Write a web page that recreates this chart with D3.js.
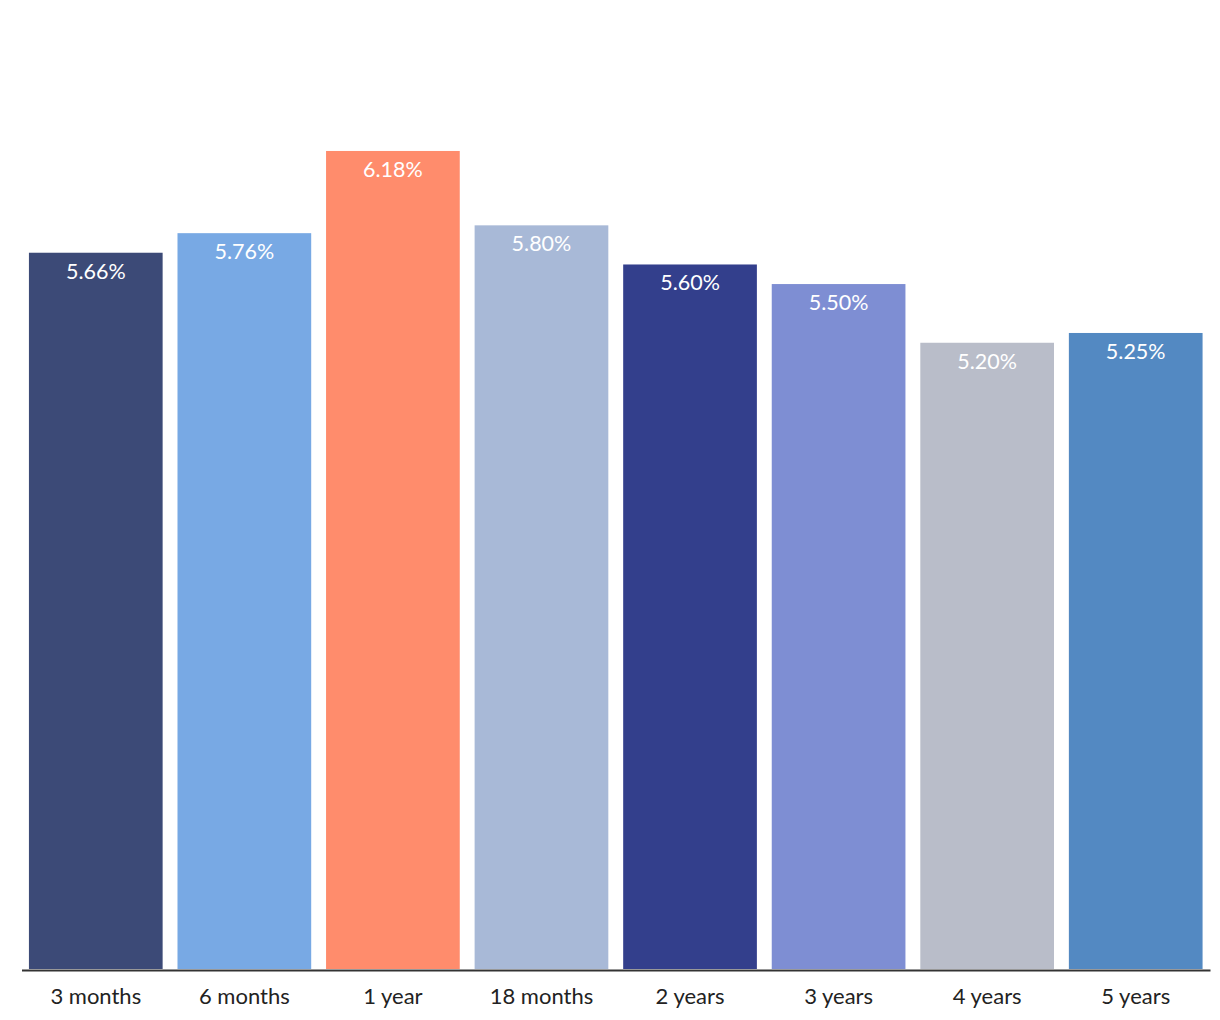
<!DOCTYPE html>
<html>
<head>
<meta charset="utf-8">
<script src="https://cdn.jsdelivr.net/npm/d3@7"></script>
<style>
  html, body { margin: 0; padding: 0; background: #ffffff; }
  svg { display: block; font-family: Lato, "Open Sans", sans-serif; }
</style>
</head>
<body>
<svg id="chart" width="1220" height="1020"></svg>
<script>
const categories = ["3 months", "6 months", "1 year", "18 months", "2 years", "3 years", "4 years", "5 years"];
const values = [5.66, 5.76, 6.18, 5.80, 5.60, 5.50, 5.20, 5.25];
const colors = ["#3c4a77", "#78a9e4", "#ff8c6c", "#a8b9d7", "#333f8c", "#7e8ed3", "#b9bdc9", "#5389c2"];

const svg = d3.select("#chart");
const baseline = 969;

const x = d3.scaleBand()
  .domain(categories)
  .range([21.5, 1210])
  .paddingInner(0.1)
  .paddingOuter(0.05);

const y = d3.scaleLinear()
  .domain([2, 7])
  .range([baseline, -9.5]);

const data = categories.map((c, i) => ({ c, v: values[i], col: colors[i] }));

svg.append("g").selectAll("rect")
  .data(data)
  .join("rect")
  .attr("x", d => x(d.c))
  .attr("y", d => y(d.v))
  .attr("width", x.bandwidth())
  .attr("height", d => y(2) - y(d.v))
  .attr("fill", d => d.col);

svg.append("g").selectAll("text")
  .data(data)
  .join("text")
  .attr("x", d => x(d.c) + x.bandwidth() / 2)
  .attr("y", d => y(d.v) + 26)
  .attr("text-anchor", "middle")
  .attr("fill", "#ffffff")
  .attr("font-size", 21.5)
  .text(d => d.v.toFixed(2) + "%");

const xAxis = d3.axisBottom(x).tickSize(0).tickPadding(0);
const gx = svg.append("g")
  .attr("transform", `translate(0,${baseline + 1})`)
  .call(xAxis);
gx.select(".domain").attr("stroke", "#333333").attr("stroke-width", 2);
gx.selectAll(".tick text")
  .attr("font-family", "Lato, 'Open Sans', sans-serif")
  .attr("font-size", 22)
  .attr("fill", "#222222")
  .attr("dy", 0)
  .attr("y", 34);
</script>
</body>
</html>
